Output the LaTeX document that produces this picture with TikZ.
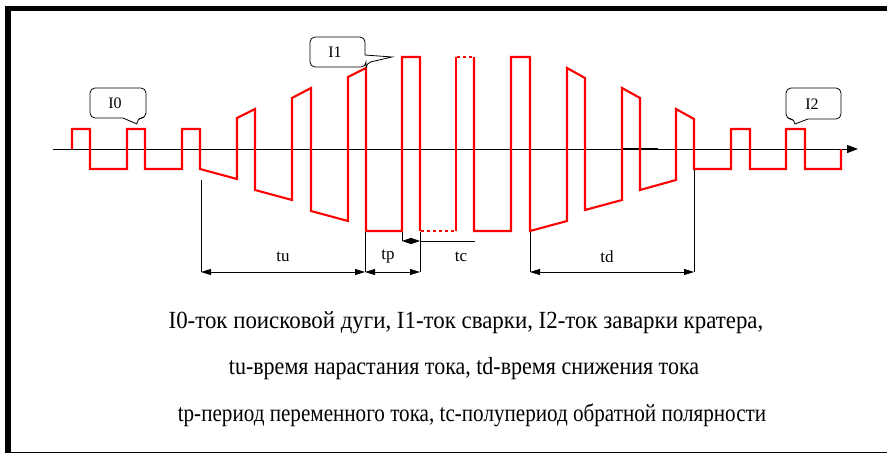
\documentclass[tikz,border=0pt]{standalone}
\usepackage{fontspec}
\setmainfont{Liberation Serif}
\usetikzlibrary{arrows.meta}
\begin{document}
\begin{tikzpicture}[x=1pt,y=-1pt,
  wave/.style={red, line width=2.1pt, line join=miter},
  wavedot/.style={red, line width=2.1pt, dash pattern=on 3pt off 3pt},
  dimline/.style={black, line width=0.8pt},
  dimarrow/.style={dimline, {Triangle[length=10pt,width=6pt]}-{Triangle[length=10pt,width=6pt]}},
  callout/.style={black, line width=0.8pt},
  lab/.style={font=\fontsize{17}{17}\selectfont, inner sep=0pt},
  clab/.style={font=\fontsize{16}{16}\selectfont, inner sep=0pt},
  caption/.style={font=\fontsize{22}{22}\selectfont, inner sep=0pt, yscale=1.12},
]
\useasboundingbox (0,0) rectangle (887,455);
\fill[white] (0,0) rectangle (887,455);
% frame
\draw[line width=6pt] (8,6) -- (8,453.2);
\draw[line width=5pt] (5,8.5) -- (887,8.5);
\draw[line width=1.5pt] (5,452.5) -- (887,452.5);
% axis
\coordinate (axL) at (53,149);
\coordinate (axR) at (858,149);
\draw[line width=0.9pt, -{Triangle[length=11pt,width=8pt]}] (axL) -- (axR);
\draw[line width=1.3pt] (623,149) -- (658,149);
% waveform
\draw[wave] (72,149) -- (72,129) -- (90,129) -- (90,169) -- (127,169) -- (127,129) -- (145,129) -- (145,169)
  -- (182,169) -- (182,129) -- (200,129) -- (200,169) -- (237,179) -- (237,118) -- (255,109) -- (255,190)
  -- (292,200) -- (292,98) -- (311,88) -- (311,211) -- (348,221) -- (348,77) -- (366,68) -- (366,231)
  -- (402,231) -- (402,57) -- (420,57) -- (420,231);
\draw[wavedot] (421,231) -- (455,231);
\draw[wave] (456,231) -- (456,57);
\draw[wavedot] (457,57) -- (474,57);
\draw[wave] (474,57) -- (474,231) -- (511,231) -- (511,57) -- (530,57) -- (530,231) -- (567,221) -- (567,68)
  -- (585,78) -- (585,210) -- (622,200) -- (622,88) -- (640,98) -- (640,190) -- (676,180) -- (676,109)
  -- (694,119) -- (694,169) -- (731,169) -- (731,129) -- (750,129) -- (750,169) -- (786,169) -- (786,129)
  -- (805,129) -- (805,169) -- (841,169) -- (841,149);
% dimension extension lines
\coordinate (e1t) at (201,180); \coordinate (e1b) at (201,272);
\coordinate (e2t) at (365,232); \coordinate (e2b) at (365,272);
\coordinate (e3t) at (420,232); \coordinate (e3b) at (420,272);
\coordinate (e4t) at (530,232); \coordinate (e4b) at (530,272);
\coordinate (e5t) at (694,170); \coordinate (e5b) at (694,272);
\coordinate (c1t) at (402,232); \coordinate (c1b) at (402,241);
\coordinate (c2) at (420,241); \coordinate (c3) at (475,241);
\foreach \a/\b in {e1t/e1b,e2t/e2b,e3t/e3b,e4t/e4b,e5t/e5b,c1t/c1b}
  \draw[dimline] (\a) -- (\b);
\draw[dimarrow] (e1b) -- (e2b);
\draw[dimarrow] (e2b) -- (e3b);
\draw[dimarrow] (e4b) -- (e5b);
\draw[dimline] (c2) -- (c3);
\draw[dimline, {Triangle[length=9pt,width=6pt]}-{Triangle[length=9pt,width=6pt]}] (c1b) -- (c2);
% labels
\node[lab] (tu) at (283,257) {tu};
\node[lab] (tp) at (388,257) {tp};
\node[lab] (tc) at (461,257) {tc};
\node[lab] (td) at (607,257) {td};
% callouts
\draw[callout, rounded corners=5pt] (123,118) -- (90,118) -- (90,88) -- (146,88) -- (146,118) -- (137,118) [sharp corners] -- (137,124) -- cycle;
\node[clab] (I0) at (115,103) {I0};
\draw[callout, rounded corners=5pt] (365,55) -- (365,37) -- (310,37) -- (310,67) -- (366,67) -- (366,63) [sharp corners] -- (392,57) -- cycle;
\node[clab] (I1) at (335,52) {I1};
\draw[callout, rounded corners=5pt] (808,119) -- (841,119) -- (841,88) -- (786,88) -- (786,119) -- (795,119) [sharp corners] -- (795,124) -- cycle;
\node[clab] (I2) at (812,104) {I2};
% caption
\node[caption, xscale=1.04] (cap1) at (466,323) {I0-ток поисковой дуги, I1-ток сварки, I2-ток заварки кратера,};
\node[caption] (cap2) at (464,369) {tu-время нарастания тока, td-время снижения тока};
\node[caption, xscale=0.96] (cap3) at (472,415) {tp-период переменного тока, tc-полупериод обратной полярности};
\end{tikzpicture}
\end{document}
